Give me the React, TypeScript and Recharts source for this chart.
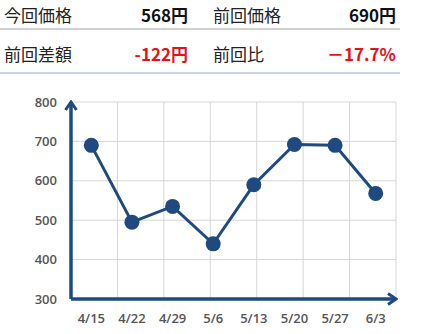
import React from "react";
import { ComposedChart, Line, XAxis, YAxis, CartesianGrid } from "recharts";

const dates = ["4/15", "4/22", "4/29", "5/6", "5/13", "5/20", "5/27", "6/3"];
const prices = [690, 495, 535, 440, 590, 692, 690, 568];
const yTicks = [300, 400, 500, 600, 700, 800];

const summaryLabels = ["今回価格", "前回価格", "前回差額", "前回比"];
const summaryValues = ["568円", "690円", "-122円", "－17.7%"];
const summaryRed = [false, false, true, true];

const NAVY = "#1f4a80";
const FONT = '"Open Sans", "Noto Sans CJK JP", sans-serif';

const data = dates.map((d, i) => ({ date: d, price: prices[i] }));
const gridTicks = dates.map((_, i) => i).concat(dates.length);

function Cell({ i }: { i: number }) {
  const right = i % 2 === 1;
  return (
    <div
      style={{
        width: 200,
        display: "flex",
        justifyContent: "space-between",
        boxSizing: "border-box",
        padding: right ? "0 4px 0 13px" : "0 12px 0 4px",
      }}
    >
      <span style={{ color: "#222" }}>{summaryLabels[i]}</span>
      <span style={{ fontWeight: 700, color: summaryRed[i] ? "#e8101c" : "#111" }}>
        {summaryValues[i]}
      </span>
    </div>
  );
}

export default function App() {
  return (
    <div style={{ position: "relative", width: 428, height: 334, background: "#fff" }}>
      <style>{"body{margin:0}"}</style>
      <svg width={0} height={0} style={{ position: "absolute" }}>
        <defs>
          <marker
            id="arrow"
            viewBox="0 0 12 14"
            refX={10}
            refY={7}
            markerWidth={12}
            markerHeight={14}
            markerUnits="userSpaceOnUse"
            orient="auto-start-reverse"
          >
            <path d="M2,1.5 L10,7 L2,12.5" fill="none" stroke={NAVY} strokeWidth={3} />
          </marker>
        </defs>
      </svg>

      <ComposedChart
        width={428}
        height={334}
        data={data}
        margin={{ top: 102, right: 32, bottom: 5, left: 11 }}
        style={{ position: "absolute", top: 0, left: 0 }}
      >
        <CartesianGrid xAxisId="grid" stroke="#d6d6d6" strokeWidth={1} />
        <XAxis
          xAxisId="grid"
          type="number"
          domain={[0, dates.length]}
          ticks={gridTicks}
          allowDataOverflow
          hide
        />
        <XAxis
          dataKey="date"
          scale="band"
          height={30}
          tickLine={false}
          tickMargin={9}
          axisLine={{ stroke: NAVY, strokeWidth: 3.5, markerEnd: "url(#arrow)" }}
          tick={{ fontSize: 13, fontWeight: 600, fill: "#555", fontFamily: FONT }}
          interval={0}
        />
        <YAxis
          width={60}
          domain={[300, 800]}
          ticks={yTicks}
          tickLine={false}
          tickMargin={8}
          axisLine={{ stroke: NAVY, strokeWidth: 3.5, markerStart: "url(#arrow)" }}
          tick={{ fontSize: 13, fontWeight: 600, fill: "#555", fontFamily: FONT }}
        />
        <Line
          dataKey="price"
          stroke={NAVY}
          strokeWidth={3}
          dot={{ r: 7.5, fill: NAVY, stroke: NAVY, strokeWidth: 0 }}
          activeDot={false}
          isAnimationActive={false}
        />
      </ComposedChart>

      <div
        style={{
          position: "absolute",
          top: 0,
          left: 0,
          width: 400,
          fontFamily: '"Noto Sans CJK JP", sans-serif',
          fontSize: 17,
        }}
      >
        <div style={{ display: "flex", height: 28, alignItems: "center", borderBottom: "2px solid #d0d0d0" }}>
          <Cell i={0} />
          <Cell i={1} />
        </div>
        <div style={{ display: "flex", height: 38, paddingTop: 4, alignItems: "center", borderBottom: "2px solid #c5d8ee" }}>
          <Cell i={2} />
          <Cell i={3} />
        </div>
      </div>
    </div>
  );
}
